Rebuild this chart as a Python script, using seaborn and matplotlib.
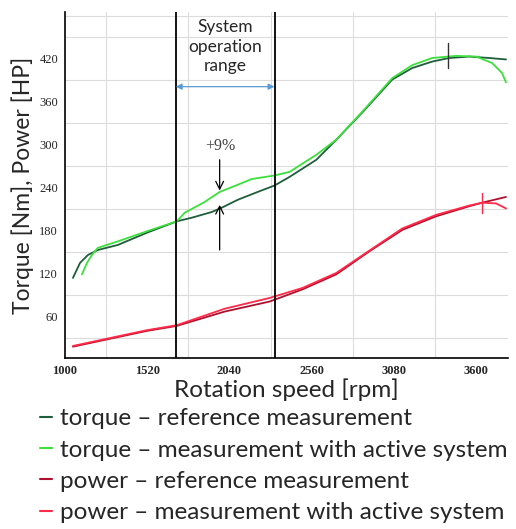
import numpy as np
import pandas as pd
import seaborn as sns
import matplotlib.pyplot as plt
from matplotlib.lines import Line2D

# --- Data ---
torque_ref_rpm = [1050, 1095, 1145, 1208, 1334, 1517, 1707, 1801, 1928, 1991, 2092, 2218, 2325, 2420,
                  2590, 2716, 2880, 3070, 3196, 3322, 3429, 3556, 3682, 3789]
torque_ref = [114, 135, 146, 153, 160, 177, 193, 198, 206, 212, 223, 234, 243, 255,
              279, 307, 345, 391, 407, 416, 421, 423, 421, 419]

torque_act_rpm = [1107, 1139, 1170, 1208, 1334, 1517, 1707, 1757, 1883, 1978, 2092, 2180, 2325, 2420,
                  2590, 2716, 2880, 3070, 3196, 3322, 3474, 3600, 3701, 3764, 3789]
torque_act = [119, 135, 146, 156, 165, 179, 193, 205, 220, 234, 244, 252, 257, 262,
              286, 307, 346, 393, 411, 421, 424, 423, 414, 400, 387]

power_ref_rpm = [1050, 1517, 1707, 2010, 2294, 2502, 2716, 2924, 3133, 3347, 3556, 3638, 3789]
power_ref = [18, 40, 47, 67, 81, 98, 119, 151, 181, 200, 214, 219, 227]

power_act_rpm = [1050, 1517, 1707, 2010, 2294, 2502, 2716, 2924, 3133, 3347, 3556, 3638, 3726, 3789]
power_act = [19, 41, 48, 71, 86, 100, 121, 152, 183, 202, 215, 219, 218, 211]

series_names = [
    "torque \u2013 reference measurement",
    "torque \u2013 measurement with active system",
    "power \u2013 reference measurement",
    "power \u2013 measurement with active system",
]
series_colors = ["#1f5e3a", "#3be03b", "#b0102e", "#ff2a4a"]

x_ticks = [1000, 1520, 2040, 2560, 3080, 3600]
y_ticks = [60, 120, 180, 240, 300, 360, 420]
range_lo, range_hi = 1700, 2325
torque_max = (3423, 407, 442)
power_max = (3638, 204, 233)

frames = []
for name, xs, ys in zip(series_names,
                        [torque_ref_rpm, torque_act_rpm, power_ref_rpm, power_act_rpm],
                        [torque_ref, torque_act, power_ref, power_act]):
    frames.append(pd.DataFrame({"rpm": xs, "value": ys, "series": name}))
df = pd.concat(frames, ignore_index=True)

sns.set_style("white")
plt.rcParams["font.family"] = ["Lato", "DejaVu Sans"]

fig = plt.figure(figsize=(5.16, 5.29), dpi=100)
ax = fig.add_axes([0.126, 0.323, 0.858, 0.654])

# grid
ax.set_xticks(np.arange(1000, 3900, 260), minor=True)
ax.set_yticks(np.arange(0, 490, 30), minor=True)
ax.grid(which="minor", color="#dcdcdc", lw=0.8)
ax.set_axisbelow(True)

for name, color in zip(series_names, series_colors):
    sub = df[df["series"] == name]
    sns.lineplot(data=sub, x="rpm", y="value", color=color, lw=1.3, sort=False,
                 ax=ax, label=name)

# system operation range
ax.axvline(range_lo, color="black", lw=1.3)
ax.axvline(range_hi, color="black", lw=1.3)
ax.annotate("", xy=(range_lo, 381), xytext=(range_hi, 381),
            arrowprops=dict(arrowstyle="<|-|>", color="#5b9bd5", lw=0.9, mutation_scale=9,
                            shrinkA=0, shrinkB=0))
ax.text((range_lo + range_hi) / 2, 475, "System\noperation\nrange", ha="center", va="top",
        fontsize=12.5, linespacing=1.25)

# +9% arrows
ax.annotate("", xy=(1978, 236), xytext=(1978, 279),
            arrowprops=dict(arrowstyle="->", color="black", lw=0.9, mutation_scale=14,
                            shrinkA=0, shrinkB=0))
ax.annotate("", xy=(1978, 216), xytext=(1978, 153),
            arrowprops=dict(arrowstyle="->", color="black", lw=0.9, mutation_scale=14,
                            shrinkA=0, shrinkB=0))
ax.text(1985, 287, "+9%", ha="center", va="bottom", fontsize=11.5, family="Liberation Serif",
        color="#444444")

# maximum markers
ax.plot([torque_max[0]] * 2, torque_max[1:], color="#333333", lw=1)
ax.plot([power_max[0]] * 2, power_max[1:], color="#ff2a4a", lw=1)

ax.set_xlim(1000, 3800)
ax.set_ylim(2, 485)
ax.set_xticks(x_ticks)
ax.set_yticks(y_ticks)
ax.set_xticklabels([str(t) for t in x_ticks], family="Liberation Serif", fontweight="bold",
                   fontsize=9)
ax.set_yticklabels([str(t) for t in y_ticks], family="Liberation Serif", fontsize=9)
ax.tick_params(axis="both", which="major", length=0, pad=5)
ax.tick_params(axis="x", which="minor", length=0)

for side in ["left", "bottom"]:
    ax.spines[side].set_color("black")
    ax.spines[side].set_linewidth(1.2)
for side in ["top", "right"]:
    ax.spines[side].set_visible(False)

ax.set_xlabel("Rotation speed [rpm]", fontsize=17.5, labelpad=1)
ax.set_ylabel("Torque [Nm], Power [HP]", fontsize=16.5, labelpad=4)

handles = [Line2D([0], [0], color=c, lw=1.5) for c in series_colors]
ax.legend(handles, series_names, loc="upper left", bbox_to_anchor=(0.077, 0.228),
          bbox_transform=fig.transFigure, frameon=False, fontsize=17.5,
          handlelength=0.5, handletextpad=0.35, labelspacing=0.42, borderpad=0,
          borderaxespad=0)

fig.savefig("out.png", dpi=100)
